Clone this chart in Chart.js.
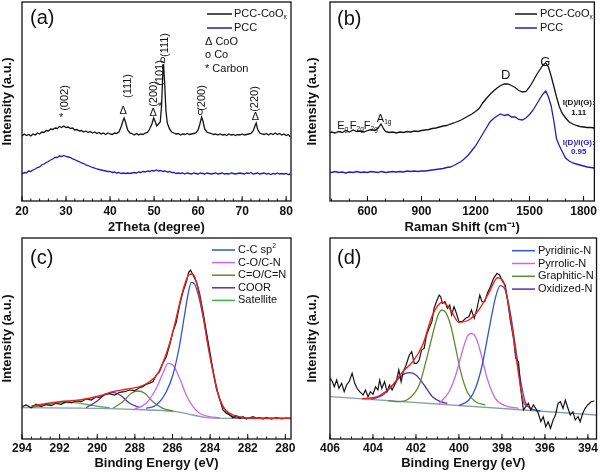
<!DOCTYPE html>
<html>
<head>
<meta charset="utf-8">
<script src="https://cdn.jsdelivr.net/npm/chart.js@4.4.1/dist/chart.umd.min.js"></script>
<style>
  html, body { margin: 0; padding: 0; background: #fff; }
  #fig { position: relative; width: 600px; height: 473px; overflow: hidden; }
  #fig canvas { position: absolute; }
</style>
</head>
<body>
<div id="fig">
  <canvas id="xrd" width="300" height="236" style="left:0;top:0"></canvas>
  <canvas id="raman" width="300" height="236" style="left:300px;top:0"></canvas>
  <canvas id="c1s" width="300" height="237" style="left:0;top:236px"></canvas>
  <canvas id="n1s" width="300" height="237" style="left:300px;top:236px"></canvas>
</div>
<script>
const FONT = '"Liberation Sans", Arial, Helvetica, sans-serif';

// ---- (a) XRD ----
const xrdTicks = [20, 30, 40, 50, 60, 70, 80];
const xrdAngleCoOx = [20,20.5,21,21.5,22,22.5,23,23.5,24,24.5,25,25.5,26,26.5,27,27.5,28,28.5,29,29.5,30,30.5,31,31.5,32,32.5,33,33.5,34,34.5,35,35.5,36,36.5,37,37.5,38,38.5,39,39.5,40,40.5,41,41.5,42,42.5,43,43.2,43.5,44,44.5,45,45.5,46,46.5,47,47.5,48,48.5,49,49.5,49.9,50.2,50.6,51,51.4,51.7,52,52.15,52.4,52.7,53,53.5,54,54.5,55,55.5,56,56.5,57,57.5,58,58.5,59,59.5,60,60.4,60.8,61.1,61.5,62,62.5,63,63.5,64,64.5,65,65.5,66,66.5,67,67.5,68,68.5,69,69.5,70,70.5,71,71.5,72,72.5,73,73.2,73.5,74,74.5,75,75.5,76,76.5,77,77.5,78,78.5,79,79.5,80,80.5,81];
const xrdCoOx = [65,67,65.5,66.5,65,67,66,68,67,69,68.5,70.5,70,72,71.5,73,72.5,74.5,73.5,75,73.5,74,72.5,73,71,71.5,70,70.5,69,70,68.5,69.5,68,69,67.5,68.5,67,68,66.5,68,67,66.5,68,67.5,69,74,81,83,79,71,68,67.5,66,67.5,66,67,66.5,68,68.5,72,77,83,80,75,77,79,95,130,137,118,90,78,72,69,68,67,67.5,66,67,66.5,67.5,66.5,67,67.5,68,71,77,84,80,72,69,68,67.5,66.5,67,66,67,66,66.5,65.5,67,66,66.5,65.5,66.5,66,67,66,66.5,67,67.5,70,76,78,72,68,67,66.5,67.5,66,67.5,66.5,68,66.5,67.5,66,67,65.5,66.5,64];
const xrdAnglePcc = [20,20.5,21,21.5,22,22.5,23,23.5,24,24.5,25,25.5,26,26.5,27,27.5,28,28.5,29,29.5,30,30.5,31,31.5,32,32.5,33,33.5,34,34.5,35,35.5,36,36.5,37,37.5,38,38.5,39,39.5,40,40.5,41,41.5,42,42.5,43,43.5,44,44.5,45,45.5,46,46.5,47,47.5,48,48.5,49,49.5,50,50.5,51,51.5,52,52.5,53,53.5,54,54.5,55,55.5,56,56.5,57,57.5,58,58.5,59,59.5,60,60.5,61,61.5,62,62.5,63,63.5,64,64.5,65,65.5,66,66.5,67,67.5,68,68.5,69,69.5,70,70.5,71,71.5,72,72.5,73,73.5,74,74.5,75,75.5,76,76.5,77,77.5,78,78.5,79,79.5,80,80.5,81];
const xrdPcc = [27,28.5,28,30,29.5,31,32,33.5,34,36,37,38.5,39.5,41,42,43.5,43.5,45,44.5,45.5,44.5,44,43.5,42,41.5,40,39.5,38,37.5,36,35.5,34.5,33.5,33,32,31.5,31,30.5,30,29.5,29.5,28.5,29,28,28.5,27.5,28,27.5,28,27.5,28,28.5,28,29,28.5,29.5,29,30,29.5,30.5,30,31,30,30.5,29.5,30,29,29.5,28.5,28.5,27.5,28,27.5,28,27,28,27.5,27,28,27.5,27,28,27.5,27,28,27.5,27,27.5,28,27,27.5,28,27,27.5,27,28,27.5,27,27.5,28,27.5,27,28,27.5,28.5,27,27.5,28,27,27.5,28,27,27.5,26.5,27.5,27,28,27,27.5,27,27.5,26.5,27];

// ---- (b) Raman ----
const ramanTicks = [600, 900, 1200, 1500, 1800];
const ramanShift = [392,400,420,440,460,480,500,520,540,560,580,600,620,640,660,675,690,700,720,740,760,780,800,820,840,860,880,900,920,940,960,980,1000,1020,1040,1060,1080,1100,1120,1140,1160,1180,1200,1220,1240,1260,1280,1300,1320,1340,1360,1380,1400,1420,1440,1460,1480,1500,1520,1540,1560,1575,1590,1605,1620,1635,1650,1665,1680,1700,1720,1740,1760,1780,1800,1820,1840,1860];
const ramanCoOx = [68,69,68,69.5,68.5,70.5,69,71,69.5,70,69,70.5,71.5,70.5,73,77,72,69.5,68.5,69,68,69,68.5,69.5,69,70,69.5,70.5,71,71.5,72.5,73,74,75,75.5,77,78,79.5,81,83,85,87,89.5,92.5,98,102.5,106.5,110,113,115.5,117,117,115.5,113.5,110.5,109,109.5,114,120,126.5,132,136,138,134,125,114.5,104,94.5,88,83,79,77,75.5,74.5,74,73.5,73.5,73];
const ramanPcc = [29,28.5,29.5,28.5,29,28,29,28.5,29.5,28.5,29,28.5,29.5,29,28.5,29.5,29,28.5,29,29.5,29,29.5,29,30,29.5,30,29.5,30,30,30.5,31,31.5,32,32.5,33.5,34,35.5,37.5,39.5,42.5,46,50.5,55,61,67,73,79,82.5,85,87,85.5,86.5,84,84,81.5,81,83,86.5,91,97,103,107,110,104,95,80,62,55.5,50,43,40,38,37,36,35,34,33.5,33];

// ---- (c) C 1s ----
const c1sTicks = [294, 292, 290, 288, 286, 284, 282, 280];
const c1sEnergy = [294.0,293.78,293.51,293.25,292.98,292.71,292.45,292.18,291.92,291.65,291.38,291.12,290.85,290.59,290.32,290.05,289.88,289.61,289.35,289.08,288.81,288.55,288.28,288.02,287.75,287.57,287.40,287.22,287.04,286.86,286.69,286.51,286.33,286.15,285.98,285.80,285.62,285.44,285.26,285.14,285.04,284.91,284.73,284.56,284.38,284.20,284.03,283.85,283.67,283.50,283.32,283.14,282.96,282.79,282.61,282.43,282.25,282.08,281.90,281.72,281.54,281.37,281.19,281.01,280.75,280.48,280.21,279.95,279.72];
const c1sRaw = [32.3,34,31.3,34.7,32.3,34.7,33.3,35.7,34.7,37.3,36.3,38,37.3,40,39,42.3,41.3,44.7,45.3,44,46.7,47.3,49,48.3,51.3,52.3,54.7,55.7,57.3,64,67.3,75.7,82.3,94,107.3,116.7,134,147.3,157.3,166.7,169,164,157.3,145.7,127.3,107.3,89,69,50.7,40.7,29,25.7,24,21.3,23.3,20.7,22.3,20,21.3,22.3,20.7,21.3,20,21.7,20,21.3,20,21,20.3];
const c1sFitE = [293.5,292.0,290.94,289.88,289.17,288.46,287.75,287.22,286.77,286.42,286.15,285.89,285.62,285.36,285.09,284.91,284.65,284.38,284.12,283.85,283.59,283.32,282.96,282.43,281.72,279.7];
const c1sFit = [33,37.3,39,43.3,47.3,49.7,52.3,57.3,65.7,80.7,95.7,114,135.7,154,164.7,164.7,150.7,124,94,67.3,45.7,32.3,25.7,22.3,20.7,20.7];
const ccE = [287.4,286.86,286.33,285.98,285.62,285.36,285.18,285.0,284.82,284.56,284.29,284.03,283.76,283.5,283.14,282.79,282.25,281.0,279.7];
const ccSp2 = [30.7,34,47.3,64,94,124,144,156.7,154.7,139,114,85.7,60.7,40.7,27.3,22.3,20.7,20.7,20.7];
const coE = [288.1,287.4,286.86,286.51,286.24,285.98,285.62,285.27,284.91,284.56,284.03,283.5];
const coCN = [29,35.7,50.7,65.7,75.7,74,60.7,44,32.3,25.7,22.3,21.3];
const c2oE = [289.17,288.64,288.19,287.84,287.48,287.04,286.51,285.98];
const c2oCN = [30.7,37.3,45.7,48,45.7,37.3,30.7,28];
const coorE = [290.59,290.05,289.61,289.17,288.73,288.28,287.75];
const coor = [31.3,37.3,44,46.7,43.3,35.7,31.3];
const satE = [293.42,292.71,292.0,291.3,290.59,289.88,289.34];
const satellite = [32,34,36.3,36.3,34.7,32.3,31.3];
const c1sBgE = [294,289.88,287.22,285.8,284.91,284.2,283.5,279.7];
const c1sBg = [31.3,30.7,29,27.3,24,21.3,20.7,20.7];

// ---- (d) N 1s ----
const n1sTicks = [406, 404, 402, 400, 398, 396, 394];
const n1sEnergy = [406.00,405.89,405.80,405.69,405.58,405.46,405.34,405.23,405.11,404.97,404.85,404.74,404.62,404.46,404.35,404.23,404.12,404.00,403.88,403.77,403.69,403.59,403.46,403.35,403.23,403.11,402.92,402.80,402.69,402.59,402.46,402.31,402.20,402.08,401.97,401.85,401.74,401.62,401.51,401.39,401.26,401.16,401.05,400.92,400.85,400.77,400.65,400.54,400.43,400.34,400.23,400.12,400.00,399.85,399.69,399.54,399.42,399.29,399.16,399.03,398.93,398.80,398.68,398.54,398.39,398.23,398.11,397.97,397.85,397.73,397.60,397.46,397.36,397.23,397.13,397.00,396.89,396.77,396.66,396.54,396.43,396.31,396.19,396.08,395.96,395.85,395.74,395.62,395.51,395.39,395.28,395.16,395.05,394.93,394.82,394.70,394.59,394.46,394.36,394.24,394.13,394.01,393.85,393.70];
const n1sRaw = [61.3,57.3,52.3,59,50.7,55.7,47.3,54,57.3,65.7,55.7,50.7,47.3,44,49,42.3,47.3,44.7,52.3,49,59,50.7,57.3,47.3,54,49,57.3,69,57.3,67.3,74,84,87.3,75.7,75.7,79,89,90.7,104,110.7,117.3,130.7,137.3,144,142.3,135.7,137.3,130.7,134,124,132.3,125.7,117.3,117.3,120.7,122.3,129,120.7,130.7,144,137.3,137.3,145.7,152.3,160.7,165.7,164,157.3,154,137.3,117.3,100.7,80.7,77.3,50.7,29,32.3,35.7,29,34,30.7,25.7,17.3,22.3,12.3,17.3,10.7,19,24,35.7,37.3,30.7,39,30.7,24,27.3,19,22.3,17.3,25.7,30.7,34,37.3,38];
const n1sFitE = [404.5,404.08,403.69,403.08,402.62,402.15,401.69,401.23,400.77,400.39,400.0,399.54,399.08,398.62,398.2,397.93,397.62,397.31,397.0,396.77];
const n1sFit = [40.3,41,43.3,54,67.3,77.3,94,124,136.7,129,116.7,119,129,145.7,161.3,157.3,124,77.3,37.3,32.3];
const pyridE = [400.0,399.54,399.23,398.92,398.62,398.31,398.08,397.85,397.62,397.38,397.15,396.92,396.69,396.2];
const pyridinic = [33.3,39,50.7,74,107.3,140.7,153.3,149,127.3,94,60.7,37.3,30.7,28];
const pyrrE = [400.92,400.46,400.15,399.85,399.62,399.43,399.23,399.0,398.69,398.31,397.85,397.23];
const pyrrolic = [35.7,47.3,64,87.3,102.3,105.7,102.3,87.3,60.7,40.7,33.3,30.7];
const graphE = [403.3,402.77,402.31,401.85,401.54,401.23,401.0,400.8,400.62,400.39,400.15,399.92,399.62,399.23,398.77];
const graphitic = [38.3,37.3,40.7,54,77.3,104,122.3,129,126.7,114,90.7,67.3,47.3,37.3,34];
const oxidE = [404.08,403.54,403.08,402.62,402.31,402.0,401.62,401.23,400.85,400.54];
const oxidized = [39.7,44,54,64,66.3,64,54,42.3,37.3,35.7];
const n1sBgE = [406, 393.6];
const n1sBg = [42.3, 24];

// ---------- drawing helpers ----------
function rich(ctx, x, y, parts, size, color, weight) {
  ctx.fillStyle = color;
  ctx.textBaseline = 'middle';
  ctx.textAlign = 'left';
  let cx = x;
  for (const p of parts) {
    let s = p, dy = 0, fs = size;
    if (typeof p !== 'string') { s = p.t; fs = size * 0.6; dy = p.sub ? size * 0.32 : -size * 0.38; }
    ctx.font = `${weight || 'normal'} ${fs}px ${FONT}`;
    ctx.fillText(s, cx, y + dy);
    cx += ctx.measureText(s).width;
  }
}

function legendLine(ctx, x0, x1, y, color) {
  ctx.strokeStyle = color;
  ctx.lineWidth = 1.5;
  ctx.beginPath();
  ctx.moveTo(x0, y); ctx.lineTo(x1, y);
  ctx.stroke();
}

function vtext(ctx, s, x, y, size) {
  ctx.save();
  ctx.translate(x, y);
  ctx.rotate(-Math.PI / 2);
  ctx.font = `${size}px ${FONT}`;
  ctx.textAlign = 'center';
  ctx.textBaseline = 'middle';
  ctx.fillStyle = '#111';
  ctx.fillText(s, 0, 0);
  ctx.restore();
}

function framePlugin(minorStep) {
  return {
    id: 'frame',
    afterDraw(chart) {
      const {ctx, chartArea: a} = chart;
      const x = chart.scales.x;
      ctx.save();
      ctx.strokeStyle = '#111';
      ctx.lineWidth = 1.3;
      ctx.strokeRect(a.left, a.top, a.right - a.left, a.bottom - a.top);
      ctx.lineWidth = 1;
      ctx.beginPath();
      const lo = Math.min(x.min, x.max), hi = Math.max(x.min, x.max);
      for (let n = Math.ceil(lo / minorStep - 1e-9); n <= Math.floor(hi / minorStep + 1e-9); n++) {
        const px = x.getPixelForValue(n * minorStep);
        ctx.moveTo(px, a.bottom); ctx.lineTo(px, a.bottom - 2.5);
      }
      for (const t of x.ticks) {
        const px = x.getPixelForValue(t.value);
        ctx.moveTo(px, a.bottom); ctx.lineTo(px, a.bottom - 5);
      }
      ctx.stroke();
      ctx.restore();
    }
  };
}

function series(xs, ys, color, width, smooth) {
  return {
    data: xs.map((v, i) => ({x: v, y: ys[i]})),
    borderColor: color,
    borderWidth: width,
    pointRadius: 0,
    fill: false,
    tension: 0,
    cubicInterpolationMode: smooth ? 'monotone' : 'default'
  };
}

function spectrum(id, o) {
  const titleFont = {family: FONT, size: 13, weight: 'bold'};
  return new Chart(document.getElementById(id), {
    type: 'line',
    data: {datasets: o.datasets},
    options: {
      responsive: false,
      animation: false,
      events: [],
      layout: {padding: {left: o.padL, right: o.padR, top: o.padT, bottom: 0}},
      plugins: {legend: {display: false}, tooltip: {enabled: false}},
      scales: {
        x: {
          type: 'linear', min: o.xmin, max: o.xmax, reverse: !!o.reverse,
          afterBuildTicks: s => { s.ticks = o.ticks.map(v => ({value: v})); },
          afterFit: s => { s.height = o.xh; },
          grid: {display: false, drawTicks: false},
          border: {display: false},
          ticks: {color: '#111', padding: o.tickPad, autoSkip: false, maxRotation: 0,
                  font: {family: FONT, size: 12, weight: 'bold'}, callback: v => String(v)},
          title: {display: true, text: o.xtitle, color: '#111', font: titleFont,
                  padding: {top: 0, bottom: o.titlePad}}
        },
        y: {
          type: 'linear', min: 0, max: o.ymax,
          afterFit: s => { s.width = o.yw; },
          grid: {display: false, drawTicks: false},
          border: {display: false},
          ticks: {display: false},
          title: {display: true, text: 'Intensity (a.u.)', color: '#111', font: titleFont, padding: 0}
        }
      }
    },
    plugins: [framePlugin(o.minor), {id: 'notes', afterDraw: o.notes}]
  });
}

// ---------- (a) ----------
spectrum('xrd', {
  xmin: 20, xmax: 81.1, ymax: 199, ticks: xrdTicks, minor: 2,
  padL: 0, padR: 9, padT: 2, yw: 22, xh: 35, tickPad: 3, titlePad: 1,
  xtitle: '2Theta (degree)',
  datasets: [
    series(xrdAngleCoOx, xrdCoOx, '#151515', 1.3, false),
    series(xrdAnglePcc, xrdPcc, '#1f1fbf', 1.3, false)
  ],
  notes(chart) {
    const {ctx, scales: {x, y}} = chart;
    ctx.save();
    rich(ctx, 30, 18, ['(a)'], 20, '#111');
    legendLine(ctx, 207, 232, 14, '#151515');
    rich(ctx, 234, 14, ['PCC-CoO', {t: 'x', sub: true}], 11, '#111');
    legendLine(ctx, 207, 232, 28, '#1f1fbf');
    rich(ctx, 234, 28, ['PCC'], 11, '#111');
    rich(ctx, 205, 42, ['Δ CoO'], 11, '#111');
    rich(ctx, 205, 55, ['o Co'], 11, '#111');
    rich(ctx, 205, 69, ['* Carbon'], 11, '#111');
    const marks = [
      {s: '*', at: [28.9, 83], hkl: '(002)', lab: [29.8, 103]},
      {s: 'Δ', at: [43.0, 90], hkl: '(111)', lab: [44.1, 115]},
      {s: 'Δ', at: [49.8, 88], hkl: '(200)', lab: [50.0, 107]},
      {s: '*', at: [51.4, 94], hkl: '(101)', lab: [51.4, 128]},
      {s: 'o', at: [52.0, 141], hkl: '(111)', lab: [52.5, 156]},
      {s: 'o', at: [60.5, 89], hkl: '(200)', lab: [60.9, 103]},
      {s: 'Δ', at: [73.0, 84], hkl: '(220)', lab: [73.0, 102]}
    ];
    ctx.textAlign = 'center';
    ctx.textBaseline = 'middle';
    for (const m of marks) {
      ctx.font = `${m.s === 'o' ? 10 : 11}px ${FONT}`;
      ctx.fillStyle = '#111';
      ctx.fillText(m.s, x.getPixelForValue(m.at[0]), y.getPixelForValue(m.at[1]));
      vtext(ctx, m.hkl, x.getPixelForValue(m.lab[0]), y.getPixelForValue(m.lab[1]), 11);
    }
    ctx.restore();
  }
});

// ---------- (b) ----------
spectrum('raman', {
  xmin: 392, xmax: 1860, ymax: 199, ticks: ramanTicks, minor: 100,
  padL: 5, padR: 2, padT: 2, yw: 25, xh: 35, tickPad: 3, titlePad: 1,
  xtitle: 'Raman Shift (cm⁻¹)',
  datasets: [
    series(ramanShift, ramanCoOx, '#151515', 1.3, false),
    series(ramanShift, ramanPcc, '#1f1fbf', 1.3, false)
  ],
  notes(chart) {
    const {ctx, scales: {x, y}} = chart;
    ctx.save();
    rich(ctx, 37, 19, ['(b)'], 20, '#111');
    legendLine(ctx, 215, 237, 14, '#151515');
    rich(ctx, 240, 14, ['PCC-CoO', {t: 'x', sub: true}], 11, '#111');
    legendLine(ctx, 215, 237, 28, '#1f1fbf');
    rich(ctx, 240, 28, ['PCC'], 11, '#111');
    ctx.textAlign = 'center';
    ctx.textBaseline = 'middle';
    ctx.font = `13px ${FONT}`;
    ctx.fillStyle = '#111';
    ctx.fillText('D', x.getPixelForValue(1367), y.getPixelForValue(126));
    ctx.fillText('G', x.getPixelForValue(1587), y.getPixelForValue(139));
    rich(ctx, x.getPixelForValue(432), y.getPixelForValue(75), ['E', {t: 'g', sub: true}], 11, '#111');
    rich(ctx, x.getPixelForValue(502), y.getPixelForValue(75), ['F', {t: '2g', sub: true}], 11, '#111');
    rich(ctx, x.getPixelForValue(580), y.getPixelForValue(75), ['F', {t: '2g', sub: true}], 11, '#111');
    rich(ctx, x.getPixelForValue(652), y.getPixelForValue(82), ['A', {t: '1g', sub: true}], 11, '#111');
    ctx.textAlign = 'center';
    ctx.font = `bold 8px ${FONT}`;
    ctx.fillStyle = '#111';
    ctx.fillText('I(D)/I(G):', x.getPixelForValue(1773), y.getPixelForValue(98));
    ctx.fillText('1.11', x.getPixelForValue(1773), y.getPixelForValue(88));
    ctx.fillStyle = '#1f1fbf';
    ctx.fillText('I(D)/I(G):', x.getPixelForValue(1773), y.getPixelForValue(58));
    ctx.fillText('0.95', x.getPixelForValue(1773), y.getPixelForValue(49));
    ctx.restore();
  }
});

// ---------- (c) ----------
const cCols = {fit: '#e8231a', raw: '#151515', cc: '#2f55d8', co: '#cc66f0', c2o: '#5f8a30', coor: '#5a2db4', sat: '#45b045', bg: '#8a9bb0'};
spectrum('c1s', {
  xmin: 279.7, xmax: 294, reverse: true, ymax: 201, ticks: c1sTicks, minor: 0.5,
  padL: 0, padR: 9, padT: 2, yw: 22, xh: 34, tickPad: 2, titlePad: 2,
  xtitle: 'Binding Energy (eV)',
  datasets: [
    series(c1sFitE, c1sFit, cCols.fit, 1.4, true),
    series(c1sEnergy, c1sRaw, cCols.raw, 1.2, false),
    series(ccE, ccSp2, cCols.cc, 1.3, true),
    series(coE, coCN, cCols.co, 1.3, true),
    series(c2oE, c2oCN, cCols.c2o, 1.3, true),
    series(coorE, coor, cCols.coor, 1.3, true),
    series(satE, satellite, cCols.sat, 1.3, true),
    series(c1sBgE, c1sBg, cCols.bg, 1.3, true)
  ],
  notes(chart) {
    const {ctx} = chart;
    ctx.save();
    rich(ctx, 30, 22, ['(c)'], 20, '#111');
    const rows = [
      [cCols.cc, ['C-C sp', {t: '2', sup: true}]],
      [cCols.co, ['C-O/C-N']],
      [cCols.c2o, ['C=O/C=N']],
      [cCols.coor, ['COOR']],
      [cCols.sat, ['Satellite']]
    ];
    rows.forEach((r, i) => {
      const yy = 14 + i * 12.6;
      legendLine(ctx, 212, 235, yy, r[0]);
      rich(ctx, 238, yy, r[1], 11, '#111');
    });
    ctx.restore();
  }
});

// ---------- (d) ----------
const nCols = {fit: '#e8231a', raw: '#151515', pyd: '#2f55d8', pyr: '#cc66f0', gra: '#5f8a30', oxi: '#5a2db4', bg: '#8a9bb0'};
spectrum('n1s', {
  xmin: 393.6, xmax: 406, reverse: true, ymax: 201, ticks: n1sTicks, minor: 0.5,
  padL: 5, padR: 2, padT: 2, yw: 25, xh: 34, tickPad: 2, titlePad: 2,
  xtitle: 'Binding Energy (eV)',
  datasets: [
    series(n1sFitE, n1sFit, nCols.fit, 1.4, true),
    series(n1sEnergy, n1sRaw, nCols.raw, 1.2, false),
    series(pyridE, pyridinic, nCols.pyd, 1.3, true),
    series(pyrrE, pyrrolic, nCols.pyr, 1.3, true),
    series(graphE, graphitic, nCols.gra, 1.3, true),
    series(oxidE, oxidized, nCols.oxi, 1.3, true),
    series(n1sBgE, n1sBg, nCols.bg, 1.3, false)
  ],
  notes(chart) {
    const {ctx} = chart;
    ctx.save();
    rich(ctx, 37, 22, ['(d)'], 20, '#111');
    const rows = [
      [nCols.pyd, 'Pyridinic-N'],
      [nCols.pyr, 'Pyrrolic-N'],
      [nCols.gra, 'Graphitic-N'],
      [nCols.oxi, 'Oxidized-N']
    ];
    rows.forEach((r, i) => {
      const yy = 14.7 + i * 12.8;
      legendLine(ctx, 212, 235, yy, r[0]);
      rich(ctx, 238, yy, [r[1]], 11, '#111');
    });
    ctx.restore();
  }
});
</script>
</body>
</html>
